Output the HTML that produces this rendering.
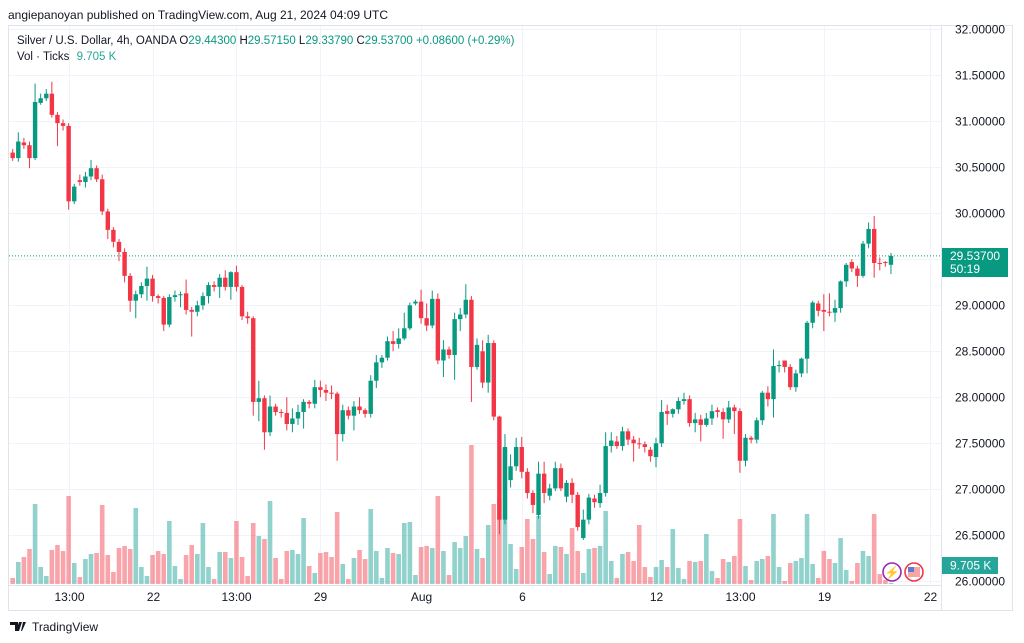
<!DOCTYPE html>
<html><head><meta charset="utf-8"><style>
body{margin:0;background:#fff;font-family:"Liberation Sans",sans-serif;}
#wrap{position:relative;width:1024px;height:643px;overflow:hidden;background:#fff}
</style></head><body>
<div id="wrap">
<svg id="svg" width="1024" height="643" xmlns="http://www.w3.org/2000/svg" font-family="Liberation Sans, sans-serif">
<text x="8" y="19" font-size="12" fill="#131722">angiepanoyan published on TradingView.com, Aug 21, 2024 04:09 UTC</text>
<rect x="8.5" y="25.5" width="1004" height="585" fill="none" stroke="#e0e3eb"/>
<g id="grid"></g>
<line x1="941.5" y1="26" x2="941.5" y2="610" stroke="#e0e3eb"/>
<line x1="9" y1="585.5" x2="941" y2="585.5" stroke="#e0e3eb"/>
<g id="vols"></g>
<g id="candles"></g>
<g id="axis"></g>
<text x="17" y="44" font-size="11.5" fill="#131722">Silver / U.S. Dollar, 4h, OANDA <tspan fill="#131722"> O</tspan><tspan fill="#089981">29.44300</tspan><tspan fill="#131722"> H</tspan><tspan fill="#089981">29.57150</tspan><tspan fill="#131722"> L</tspan><tspan fill="#089981">29.33790</tspan><tspan fill="#131722"> C</tspan><tspan fill="#089981">29.53700 +0.08600 (+0.29%)</tspan></text>
<text x="17" y="60" font-size="11.5" fill="#131722">Vol · Ticks <tspan fill="#26a69a" dx="4">9.705 K</tspan></text>
<g><circle cx="892" cy="572" r="9" fill="#fff" stroke="#9c27b0" stroke-width="1.6"/><text x="892" y="576.5" font-size="12" fill="#9c27b0" text-anchor="middle">⚡</text></g>
<g><circle cx="914" cy="572" r="9" fill="#fff" stroke="#f23645" stroke-width="1.6"/><rect x="908" y="567" width="12" height="10" fill="#f7a6a6"/><rect x="908" y="567" width="6" height="5" fill="#5b7bd5"/></g>
<g><rect x="942" y="248" width="66" height="29" fill="#089981"/><text x="950" y="260" font-size="12" fill="#fff">29.53700</text><text x="950" y="273" font-size="12" fill="#fff">50:19</text></g>
<g><rect x="942" y="557" width="56" height="17" fill="#26a69a"/><text x="950" y="569.5" font-size="12" fill="#fff">9.705 K</text></g>
<g><path d="M10 622h8v9h-3v-6h-5z M19 622h3l-3 9h-3z M23 622h3l-4 9h-1z" fill="#131722"/><text x="32" y="631" font-size="12" fill="#131722">TradingView</text></g>
</svg>
</div>
<script>
const opens=[30.66,30.60,30.77,30.74,30.60,31.20,31.25,31.30,31.07,30.98,30.95,30.13,30.36,30.34,30.40,30.49,30.37,30.02,29.82,29.69,29.58,29.32,29.05,29.12,29.21,29.29,29.10,29.08,28.79,29.09,29.11,29.13,28.95,28.93,29.00,29.10,29.22,29.20,29.30,29.20,29.36,29.20,28.88,28.86,27.95,27.99,27.62,27.90,27.84,27.83,27.71,27.77,27.84,27.95,27.93,28.11,28.08,28.05,28.04,27.60,27.86,27.80,27.90,27.86,27.82,28.18,28.38,28.43,28.61,28.58,28.64,28.75,29.02,29.04,28.86,28.78,29.07,28.40,28.52,28.46,28.85,28.90,29.06,28.33,28.50,28.16,28.59,27.79,26.67,27.10,27.25,27.46,27.19,26.96,26.72,27.17,26.93,27.01,27.23,26.92,27.07,26.94,26.47,26.67,26.90,26.85,26.96,27.47,27.52,27.47,27.63,27.54,27.50,27.49,27.43,27.35,27.50,27.85,27.82,27.87,27.96,27.98,27.72,27.76,27.70,27.77,27.86,27.84,27.76,27.89,27.85,27.31,27.56,27.54,27.75,28.05,27.98,28.34,28.40,28.33,28.11,28.26,28.42,28.81,29.02,28.95,28.93,28.92,28.97,29.26,29.47,29.40,29.32,29.67,29.83,29.46,29.47,29.44];
const closes=[30.60,30.78,30.74,30.60,31.21,31.25,31.30,31.07,30.98,30.95,30.13,30.29,30.34,30.40,30.49,30.37,30.02,29.82,29.69,29.58,29.32,29.05,29.12,29.21,29.29,29.10,29.08,28.79,29.09,29.11,29.12,28.95,28.93,29.00,29.10,29.22,29.20,29.30,29.20,29.36,29.20,28.88,28.86,27.95,27.99,27.62,27.90,27.84,27.83,27.71,27.77,27.84,27.95,27.93,28.11,28.08,28.05,28.04,27.60,27.86,27.80,27.90,27.86,27.82,28.18,28.38,28.43,28.61,28.58,28.64,28.75,29.00,29.04,28.86,28.78,29.07,28.40,28.52,28.46,28.85,28.90,29.06,28.33,28.57,28.16,28.59,27.79,26.67,27.46,27.25,27.46,27.19,26.96,26.83,27.17,26.96,27.01,27.23,27.01,27.07,26.94,26.59,26.67,26.91,26.86,26.96,27.47,27.53,27.47,27.63,27.54,27.50,27.49,27.46,27.36,27.50,27.84,27.82,27.87,27.96,27.98,27.72,27.76,27.70,27.77,27.85,27.84,27.76,27.89,27.85,27.31,27.56,27.54,27.75,28.05,27.98,28.34,28.35,28.33,28.11,28.26,28.42,28.81,29.03,28.94,28.93,28.92,28.97,29.26,29.44,29.40,29.32,29.67,29.83,29.46,29.45,29.46,29.537];
const highs=[30.70,30.88,30.82,30.78,31.41,31.30,31.35,31.43,31.10,31.02,30.98,30.32,30.42,30.45,30.58,30.52,30.42,30.05,29.85,29.72,29.62,29.35,29.16,29.25,29.42,29.33,29.12,29.10,29.12,29.16,29.15,29.28,28.98,29.05,29.14,29.25,29.26,29.34,29.38,29.37,29.43,29.22,28.93,28.88,28.18,28.02,28.02,27.93,27.87,28.00,27.88,27.92,27.98,27.97,28.19,28.18,28.14,28.13,28.06,27.92,27.90,27.96,28.00,27.88,28.24,28.46,28.46,28.66,28.72,28.75,28.92,29.03,29.06,29.17,29.02,29.16,29.13,28.62,28.55,28.92,28.97,29.23,29.10,28.64,28.62,28.68,28.62,27.80,27.60,27.38,27.56,27.57,27.23,26.99,27.30,27.30,27.06,27.30,27.28,27.10,27.12,26.97,26.78,26.95,26.94,27.05,27.62,27.62,27.58,27.68,27.66,27.58,27.56,27.52,27.46,27.56,27.97,27.92,27.88,28.00,28.05,28.02,27.83,27.81,27.83,27.92,27.89,27.88,27.96,27.92,27.88,27.60,27.58,27.78,28.07,28.12,28.52,28.40,28.40,28.36,28.30,28.43,28.83,29.05,29.05,29.12,29.13,29.06,29.27,29.46,29.50,29.43,29.70,29.90,29.97,29.52,29.48,29.57];
const lows=[30.57,30.56,30.70,30.49,30.58,31.18,31.22,31.04,30.73,30.90,30.04,30.10,30.30,30.28,30.36,30.34,29.98,29.72,29.63,29.48,29.25,28.93,28.86,29.08,29.05,29.04,29.02,28.72,28.76,29.04,28.98,28.90,28.66,28.88,28.95,29.02,29.15,29.08,29.16,29.06,29.15,28.84,28.80,27.80,27.74,27.43,27.58,27.80,27.78,27.64,27.62,27.70,27.66,27.88,27.88,28.00,27.96,27.98,27.31,27.52,27.76,27.64,27.82,27.78,27.78,28.10,28.32,28.40,28.50,28.53,28.62,28.73,29.00,28.80,28.72,28.75,28.36,28.22,28.42,28.19,28.72,28.86,27.95,28.30,28.10,28.05,27.75,26.51,26.62,27.02,27.20,27.12,26.90,26.74,26.68,26.85,26.88,26.98,26.98,26.86,26.85,26.55,26.45,26.62,26.80,26.80,26.92,27.40,27.44,27.42,27.48,27.30,27.44,27.40,27.30,27.24,27.46,27.70,27.78,27.82,27.92,27.68,27.62,27.52,27.68,27.70,27.78,27.55,27.72,27.60,27.18,27.25,27.50,27.50,27.70,27.90,27.78,28.27,28.27,28.08,28.06,28.22,28.26,28.75,28.88,28.72,28.88,28.82,28.92,29.20,29.36,29.20,29.30,29.62,29.30,29.38,29.42,29.34];
const volumes=[0.6,2.2,2.7,3.5,8.0,1.7,0.8,3.4,3.9,3.3,8.8,2.1,0.7,2.5,3.0,3.1,7.9,2.9,1.2,3.6,3.8,3.5,7.6,1.7,0.8,2.9,3.3,3.0,6.3,1.8,0.5,2.9,3.9,3.0,6.1,1.7,0.5,3.2,3.2,2.6,6.3,
2.7,0.8,6.1,4.8,4.5,8.3,2.6,0.5,3.3,3.4,3.0,6.6,1.8,1.1,3.1,3.2,2.7,7.2,2.0,0.5,2.6,3.4,2.5,7.5,3.3,0.6,3.6,3.1,3.0,6.1,6.2,0.9,3.7,3.8,3.6,8.8,3.3,0.9,4.2,3.6,4.8,13.9,3.5,2.6,5.9,8.0,
8.5,13.6,4.0,1.5,3.7,6.5,4.5,6.8,3.2,1.0,3.8,3.7,3.0,5.6,3.3,1.1,3.5,3.6,3.8,7.3,2.3,0.6,3.0,3.2,2.3,5.9,1.7,0.7,1.7,2.4,1.7,5.5,1.6,0.5,2.3,2.2,2.3,5.0,1.3,0.6,2.5,2.2,2.8,
6.5,1.8,0.4,2.3,2.5,2.8,7.0,1.7,0.3,2.1,2.3,2.6,7.0,2.0,0.6,3.3,2.5,2.1,4.6,1.4,0.3,2.1,3.3,2.8,7.0,1.0,0.4,0.1];
const priceTicks=[32,31.5,31,30.5,30,29.5,29,28.5,28,27.5,27,26.5,26];
const priceTickLabels=["32.00000","31.50000","31.00000","30.50000","30.00000","29.50000","29.00000","28.50000","28.00000","27.50000","27.00000","26.50000","26.00000"];
const timeTickIndex=[10,25,40,55,73,91,115,130,145,164];
const timeTickLabels=["13:00","22","13:00","29","Aug","6","12","13:00","19","22"];

const NS="http://www.w3.org/2000/svg";
const yP=p=>29.3+(32-p)*92;
const xI=i=>12.7+i*5.594;
const yV=v=>584-v*10;
function mk(tag,attrs,parent){const e=document.createElementNS(NS,tag);for(const k in attrs)e.setAttribute(k,attrs[k]);parent.appendChild(e);return e;}
const grid=document.getElementById('grid'),axis=document.getElementById('axis');
priceTicks.forEach((p,i)=>{
  const y=Math.round(yP(p))+0.5;
  const l=mk('line',{x1:9,x2:941,y1:y,y2:y,stroke:'#f0f3fa'},grid);
  
  
  const t=mk('text',{x:955,y:yP(p)+4,'font-size':12,fill:'#131722'},axis);
  t.textContent=priceTickLabels[i];
  
  
});
timeTickIndex.forEach((ci,i)=>{
  const x=Math.round(xI(ci))+0.5;
  const l=mk('line',{x1:x,x2:x,y1:26,y2:585,stroke:'#f0f3fa'},grid);
  
  
  const t=mk('text',{x:x,y:601,'font-size':12,fill:'#131722','text-anchor':'middle'},axis);
  t.textContent=timeTickLabels[i];
  
  
});
const dl=mk('line',{x1:9,x2:941,y1:yP(closes[closes.length-1]),y2:yP(closes[closes.length-1]),stroke:'#089981','stroke-dasharray':'1 2'},grid);


const vg=document.getElementById('vols'),cg=document.getElementById('candles');
closes.forEach((c,i)=>{
  const o=opens[i],up=c>=o,x=xI(i);
  const vb=mk('rect',{x:x-2.3,y:yV(volumes[i]),width:4.6,height:584-yV(volumes[i]),fill:up?'rgba(38,166,154,0.5)':'rgba(242,54,69,0.45)'},vg);
  
  
  const col=up?'#089981':'#f23645';
  const w=mk('line',{x1:x,x2:x,y1:yP(highs[i]),y2:yP(lows[i]),stroke:col,'stroke-width':1},cg);
  
  
  const top=yP(Math.max(o,c)),h=Math.max(1,yP(Math.min(o,c))-top);
  const b=mk('rect',{x:x-2.2,y:top,width:4.4,height:h,fill:col},cg);
  
  
});
</script>
</body></html>
